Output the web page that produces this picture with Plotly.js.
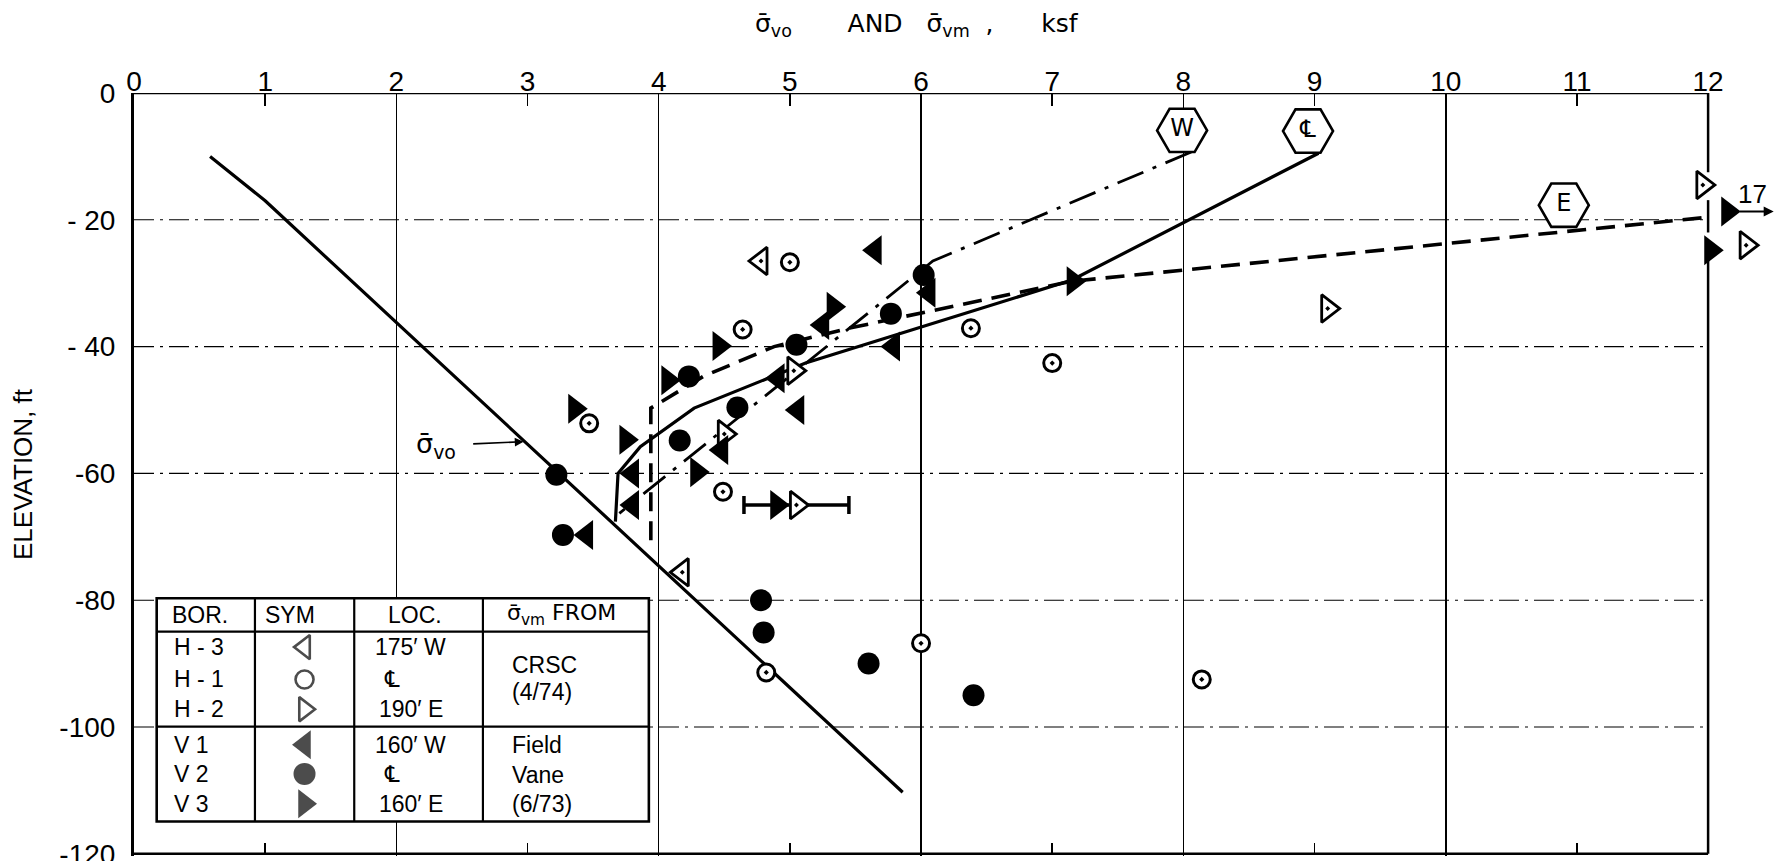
<!DOCTYPE html>
<html><head><meta charset="utf-8">
<script src="https://cdn.plot.ly/plotly-3.0.1.min.js"></script>
<style>html,body{margin:0;padding:0;background:#fff}#chart{width:1775px;height:861px}</style>
</head><body><div id="chart"></div>
<script>
// ---------- DATA ----------
// effective overburden stress line (sigma_vo)
const svoX = [0.58, 1.0, 5.86];
const svoY = [-10, -17, -110.3];
// interpreted sigma_vm profiles
const clX = [9.03, 7.15, 5.12, 4.27, 3.86, 3.69, 3.67];      // centerline (solid)
const clY = [-9.5, -29.5, -42.6, -49.7, -55.8, -60, -67.6];
const wX = [8.06, 6.09, 3.70];                                 // west (dash-dot)
const wY = [-9.3, -26.5, -66.3];
const eX = [11.95, 7.15, 5.45, 4.88, 4.34, 3.94, 3.94];        // east (dashed)
const eY = [-19.7, -29.7, -37.1, -40, -44.7, -49.7, -72];

// CRSC tests (4/74)
const h3X = [4.78, 4.18];
const h3Y = [-26.5, -75.6];
const h1X = [5.0, 4.64, 3.47, 4.49, 6.38, 7.0, 6.0, 4.82, 8.14];
const h1Y = [-26.7, -37.3, -52.1, -62.9, -37.1, -42.6, -86.8, -91.4, -92.5];
const h2X = [5.03, 4.5, 9.1, 11.96, 12.29];
const h2Y = [-43.8, -53.8, -34, -14.5, -24];
const h2RangeX = [5.05];      // H-2 point with range bar
const h2RangeY = [-65];
const h2RangeErr = [0.40];
// Field vane (6/73)
const v1X = [5.65, 6.06, 5.25, 5.79, 4.91, 5.06, 4.48, 3.80, 3.80, 3.45];
const v1Y = [-24.8, -31.5, -36.6, -40, -45, -50, -56.3, -60, -65, -69.7];
const v2X = [6.02, 5.77, 5.05, 4.23, 4.6, 4.16, 3.22, 3.27, 4.78, 4.8, 5.6, 6.4];
const v2Y = [-28.7, -34.8, -39.7, -44.7, -49.6, -54.8, -60.2, -69.7, -80, -85.1, -90, -95];
const v3X = [5.33, 7.16, 4.46, 4.07, 3.36, 3.75, 4.29, 4.9, 12.15, 12.02];
const v3Y = [-33.7, -29.7, -39.9, -45.3, -49.8, -54.7, -59.8, -65, -18.7, -24.8];
const offScaleValue = '17';

// profile tags
const tagText = ['W', '\u2104', 'E'];
const tagX = [7.99, 8.95, 10.9];
const tagY = [-5.9, -6.0, -17.7];

// axis ticks
const xTicks = [0,1,2,3,4,5,6,7,8,9,10,11,12];
const xTickText = ['0','1','2','3','4','5','6','7','8','9','10','11','12'];
const xGrid = [2,4,6,8,10];
const xMinor = [1,3,5,7,9,11];
const yTicks = [0,-20,-40,-60,-80,-100,-120];
const yTickText = ['0','- 20','- 40','-60','-80','-100','-120'];
const yGrid = [-20,-40,-60,-80,-100];

// legend table content
const borText = ['H - 3','H - 1','H - 2','V 1','V 2','V 3'];
const locText = ['175\u2032 W','\u2104','190\u2032 E','160\u2032 W','\u2104','160\u2032 E'];
const symList = ['triangle-left-open','circle-open','triangle-right-open','triangle-left','circle','triangle-right'];
const srcText = ['CRSC','(4/74)','Field','Vane','(6/73)'];

// ---------- LAYOUT GEOMETRY ----------
const XMAX = 12, XEDGE = 12.51, YMIN = -120;
const T = {x0:0.173, x1:3.925, y0:-79.7, y1:-114.9, yHead:-84.97, ySep:-99.95,
           cols:[0.922,1.679,2.66], headY:-82.3, symX:1.30,
           rowY:[-87.4,-92.5,-97.2,-102.8,-107.4,-112.1],
           srcY:[-90.2,-94.5,-102.8,-107.5,-112.1]};

const K = '#000';
const FONT = 'Liberation Sans, DejaVu Sans, Arial, sans-serif';
const SIGFONT = 'DejaVu Sans, Liberation Sans, sans-serif';
const traces = [];
const base = {hoverinfo:'skip', showlegend:false, cliponaxis:false};

traces.push(Object.assign({x:svoX, y:svoY, mode:'lines', line:{color:K, width:3.2}}, base));
traces.push(Object.assign({x:clX, y:clY, mode:'lines', line:{color:K, width:3.2}}, base));
traces.push(Object.assign({x:wX, y:wY, mode:'lines', line:{color:K, width:2.8, dash:'28px,10px,4px,10px'}}, base));
traces.push(Object.assign({x:eX, y:eY, mode:'lines', line:{color:K, width:3.6, dash:'19px,10px'}}, base));

function mk(x, y, sym, fill, size, lw) {
  return Object.assign({x:x, y:y, mode:'markers',
    marker:{symbol:sym, color:fill, size:size, line:{color:K, width:lw}}}, base);
}
traces.push(mk(h1X, h1Y, 'circle-dot', '#fff', 17, 3));
traces.push(mk(h3X, h3Y, 'triangle-left-dot', '#fff', 24, 2.8));
traces.push(mk(h2X, h2Y, 'triangle-right-dot', '#fff', 24, 2.8));
const h2r = mk(h2RangeX, h2RangeY, 'triangle-right-dot', '#fff', 24, 2.8);
h2r.error_x = {type:'data', array:h2RangeErr, visible:true, color:K, thickness:3.5, width:9};
traces.push(h2r);
traces.push(mk(v2X, v2Y, 'circle', K, 22, 0));
traces.push(mk(v1X, v1Y, 'triangle-left', K, 26, 0));
traces.push(mk(v3X, v3Y, 'triangle-right', K, 26, 0));

// profile tags (hexagons)
traces.push(Object.assign({x:tagX, y:tagY, mode:'markers+text', text:tagText, textposition:'middle center',
  textfont:{family:'DejaVu Sans, Liberation Sans, sans-serif', size:24, color:K},
  marker:{symbol:'hexagon2', size:50, color:'#fff', line:{color:K, width:2.6}}}, base));

// legend symbols inside table
traces.push(Object.assign({x:T.rowY.map(()=>T.symX), y:T.rowY, mode:'markers',
  marker:{symbol:symList, color:K, size:[21,18,21,25,22,25], line:{color:K, width:[2.6,2.6,2.6,0,0,0]}}}, base));

// dummy trace for bottom axis
traces.push({x:[null], y:[null], xaxis:'x2', yaxis:'y', mode:'markers', hoverinfo:'skip', showlegend:false});

// ---------- SHAPES ----------
const shapes = [];
function seg(x0,y0,x1,y1,w,layer,dash){ shapes.push({type:'line', xref:'x', yref:'y', x0:x0, y0:y0, x1:x1, y1:y1,
  layer:layer||'above', line:{color:K, width:w, dash:dash||'solid'}}); }
// horizontal dash-dot grid (stops at the x = 12 border)
yGrid.forEach(v => seg(0, v, XMAX, v, 1.1, 'below', '20px,6px,3px,6px'));
// frame: top and bottom edges, right border at x = 12 (broken where the off-scale points sit)
seg(0, 0, XMAX, 0, 2.6);
seg(0, YMIN, XMAX, YMIN, 2.6);
seg(XMAX,0,XMAX,-12.5,2.5); seg(XMAX,-16.9,XMAX,-22,2.5); seg(XMAX,-26.5,XMAX,YMIN,2.5);
// legend table
shapes.push({type:'rect', xref:'x', yref:'y', x0:T.x0, x1:T.x1, y0:T.y0, y1:T.y1, layer:'between',
  fillcolor:'#fff', line:{color:K, width:2.6}});
seg(T.x0, T.yHead, T.x1, T.yHead, 2.2, 'between');
seg(T.x0, T.ySep, T.x1, T.ySep, 2.2, 'between');
T.cols.forEach(c => seg(c, T.y0, c, T.y1, 2.2, 'between'));

// ---------- ANNOTATIONS ----------
const ann = [];
function txt(x, y, s, anchor, size, fam){ ann.push({x:x, y:y, xref:'x', yref:'y', text:s, showarrow:false,
  xanchor:anchor||'center', yanchor:'middle', font:{size:size||22, color:K, family:fam||FONT}}); }
// x-axis title (axis sits at the top)
ann.push({x:5.97, y:1, xref:'x', yref:'paper', yshift:68, xanchor:'center', yanchor:'middle', showarrow:false,
  text:'\u03C3\u0304<sub>vo</sub>&nbsp;&nbsp;&nbsp;&nbsp;&nbsp;&nbsp;&nbsp;AND&nbsp;&nbsp;&nbsp;\u03C3\u0304<sub>vm</sub>&nbsp;&nbsp;,&nbsp;&nbsp;&nbsp;&nbsp;&nbsp;&nbsp;ksf',
  font:{size:25, color:K, family:SIGFONT}});
// sigma_vo label with arrow
ann.push({x:2.97, y:-55, xref:'x', yref:'y', ax:2.30, ay:-55.6, axref:'x', ayref:'y',
  text:'\u03C3\u0304<sub>vo</sub>', showarrow:true, arrowhead:2, arrowsize:1.1, arrowwidth:1.6, arrowcolor:K,
  startstandoff:16, font:{size:27, color:K, family:SIGFONT}});
// off-scale value arrow
ann.push({x:12.5, y:-18.7, xref:'x', yref:'y', ax:12.23, ay:-18.7, axref:'x', ayref:'y', text:'',
  showarrow:true, arrowhead:2, arrowsize:1, arrowwidth:2, arrowcolor:K});
txt(12.34, -15.9, offScaleValue, 'center', 26);
// table header
txt(0.50, T.headY, 'BOR.', 'center', 23);
txt(1.19, T.headY, 'SYM', 'center', 23);
txt(2.14, T.headY, 'LOC.', 'center', 23);
txt(3.26, T.headY, '\u03C3\u0304<sub>vm</sub> FROM', 'center', 22, SIGFONT);
borText.forEach((s,i) => txt(0.29, T.rowY[i], s, 'left', 23));
locText.forEach((s,i) => txt(s === '\u2104' ? 1.97 : 2.11, T.rowY[i], s, 'center', 23, s === '\u2104' ? 'DejaVu Sans, sans-serif' : FONT));
srcText.forEach((s,i) => txt(2.865, T.srcY[i], s, 'left', 23));

const layout = {
  width:1775, height:861,
  margin:{l:134, r:0, t:93, b:5, pad:0},
  paper_bgcolor:'#fff', plot_bgcolor:'#fff',
  font:{family:FONT, color:K, size:22},
  showlegend:false,
  xaxis:{range:[0,XEDGE], side:'top', tickmode:'array', tickvals:xTicks, ticktext:xTickText,
    ticks:'inside', ticklen:13, tickwidth:1.5, tickcolor:K, showgrid:false, zeroline:false,
    showline:false, tickfont:{size:28, color:K}, ticklabelstandoff:-5, ticklabeloverflow:'allow', fixedrange:true},
  xaxis2:{range:[0,XEDGE], overlaying:'x', side:'bottom', anchor:'free', position:0.0029,
    tickmode:'array', tickvals:xGrid,
    ticks:'', showticklabels:false, showgrid:true, gridcolor:K, gridwidth:1.5, zeroline:false, showline:false,
    minor:{tickmode:'array', tickvals:xMinor, ticks:'inside', ticklen:11, tickwidth:1.5, tickcolor:K, showgrid:false},
    fixedrange:true},
  yaxis:{range:[-120.35,0], tickmode:'array', tickvals:yTicks, ticktext:yTickText, ticks:'',
    showgrid:false, zeroline:false,
    showline:true, linewidth:3, linecolor:K, tickfont:{size:28, color:K}, ticklabelstandoff:10,
    ticklabeloverflow:'allow',
    title:{text:'ELEVATION, ft', font:{size:26, color:K}, standoff:20}, fixedrange:true},
  shapes:shapes, annotations:ann
};
Plotly.newPlot('chart', traces, layout, {displayModeBar:false, staticPlot:true});
</script></body></html>
